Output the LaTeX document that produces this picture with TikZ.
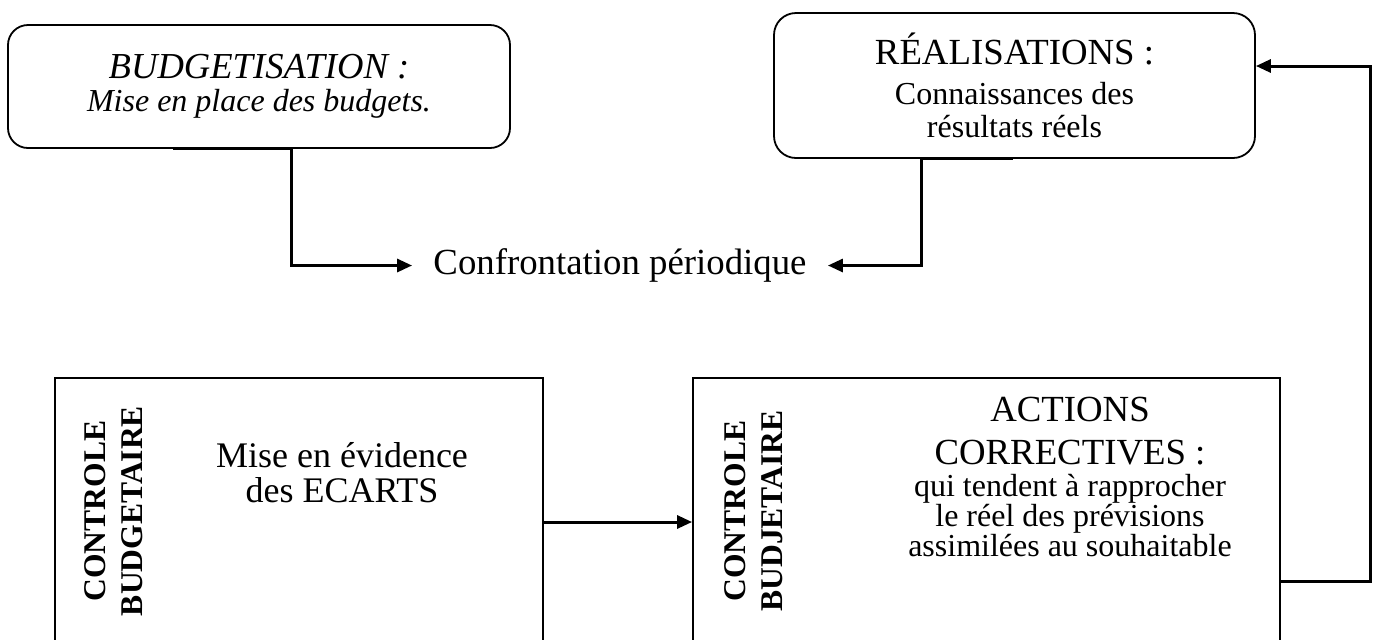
\documentclass[tikz,border=0pt]{standalone}
\usepackage{fontspec}
\setmainfont{Liberation Serif}
\usetikzlibrary{arrows.meta, positioning}
\newcommand{\bigtxt}{\fontsize{18.4}{15}\selectfont}
\tikzset{
  roundbox/.style={rectangle, draw, rounded corners=10pt, line width=0.9pt,
    align=center, inner sep=0pt},
  flatbox/.style={rectangle, draw, line width=0.9pt, inner sep=0pt},
  sidelabel/.style={rotate=90, align=center, inner sep=0pt,
    font=\fontsize{15.8}{18.5}\selectfont\bfseries},
  arrow/.style={-{Triangle[length=7.5pt, width=6.5pt]}, line width=1.5pt},
  line/.style={line width=1.5pt}
}
\begin{document}
\begin{tikzpicture}[x=0.5pt, y=-0.5pt]
  \useasboundingbox (0,0) rectangle (1373,639);
  \clip (0,0) rectangle (1373,639);

  % Budgets
  \node[roundbox, minimum width=251pt, minimum height=61.5pt,
    font=\itshape\fontsize{16}{16.5}\selectfont] (budget) at (259,86.5)
    {{\fontsize{18.3}{16.5}\selectfont BUDGETISATION :}\\Mise en place des budgets.};

  % Realisations
  \node[roundbox, rounded corners=11pt, minimum width=240.5pt, minimum height=72.5pt,
    font=\fontsize{16}{16.5}\selectfont] (real) at (1014.5,85.5)
    {{\bigtxt RÉALISATIONS :}\\[3.5pt]Connaissances des\\résultats réels};

  % Confrontation
  \node[font=\bigtxt, inner xsep=10.5pt, inner ysep=0pt] (confront) at (620,265.5)
    {Confrontation périodique};

  % Ecarts
  \node[flatbox, minimum width=244pt, minimum height=161pt] (ecarts) at (299,539) {};
  \node[sidelabel] (ctrl1) at (113.5,511) {CONTROLE\\BUDGETAIRE};
  \node[align=center, inner sep=0pt, font=\fontsize{18}{17.5}\selectfont] (ecartstxt)
    at (342,473) {Mise en évidence\\des ECARTS};

  % Actions correctives
  \node[flatbox, minimum width=293.5pt, minimum height=161pt] (actions) at (986.5,539) {};
  \node[sidelabel] (ctrl2) at (753.5,511) {CONTROLE\\BUDJETAIRE};
  \node[align=center, inner sep=0pt, font=\fontsize{16}{15}\selectfont] (actionstxt)
    at (1070,477) {{\bigtxt ACTIONS}\\[6.5pt]{\bigtxt CORRECTIVES :}\\[1pt]qui tendent à rapprocher\\le réel des prévisions\\assimilées au souhaitable};

  % Paths
  \draw[arrow] ([xshift=-43pt]budget.south) -- ([xshift=16pt]budget.south) |- (confront.west);
  \draw[arrow] ([xshift=-1pt]real.south) -- ([xshift=-46.75pt]real.south) |- (confront.east);
  \draw[arrow] ([yshift=8.5pt]ecarts.east) -- ([yshift=8.5pt]actions.west);

  % Feedback path
  \draw[arrow] ([yshift=-21pt]actions.east) -- ++(45pt,0) |- ([yshift=9.75pt]real.east);
\end{tikzpicture}
\end{document}
